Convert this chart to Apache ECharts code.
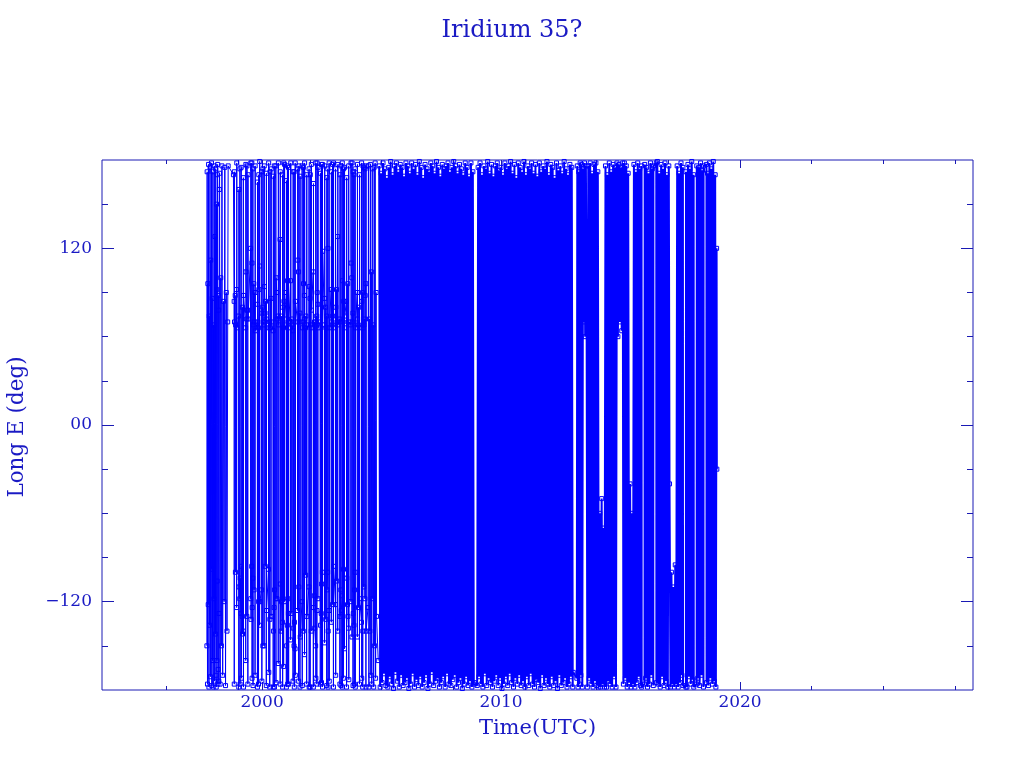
<!DOCTYPE html>
<html>
<head>
<meta charset="utf-8">
<script src="https://cdn.jsdelivr.net/npm/echarts@6/dist/echarts.min.js"></script>
<style>
html,body{margin:0;padding:0;background:#fff;}
#chart{width:1024px;height:768px;}
</style>
</head>
<body>
<div id="chart"></div>
<script>
// ---- Text ----
const titleText = 'Iridium 35?';
const xAxisTitle = 'Time(UTC)';
const yAxisTitle = 'Long E (deg)';

// ---- Axis ticks ----
const xLabelYears = [2000, 2010, 2020];
const xMinorTicks = [1996, 1999, 2002, 2005, 2008, 2011, 2014, 2017, 2023, 2026, 2029];
const yLabelValues = [-120, 0, 120];
const yMinorTicks = [-150, -90, -60, -30, 30, 60, 90, 150];
const xRange = [1993.3, 2029.75];
const yRange = [-180, 180];

// ---- Observations [decimal year, longitude E (deg)] ----
// 1997.7 - 2004.9 : early period, clusters near +65..+130 and -95..-155
const obsEarly = [
[1997.69,-150],[1997.70,172],[1997.715,-176],[1997.73,96],[1997.745,-122],[1997.76,177],[1997.775,-178],[1997.79,74],
[1997.805,-136],[1997.82,175],[1997.835,-171],[1997.85,112],[1997.865,-98],[1997.88,178],[1997.895,-177],[1997.91,86],
[1997.925,-160],[1997.94,172],[1997.955,-178],[1997.97,68],[1997.985,-118],[1998.00,176],[1998.015,-174],[1998.03,128],
[1998.045,-142],[1998.06,174],[1998.07,-170],[1998.08,-178],[1998.09,150],[1998.10,92],[1998.11,-160],[1998.12,-106],[1998.13,170],[1998.14,177],[1998.15,-176],[1998.16,-166],[1998.17,88],[1998.18,78],
[1998.19,-174],[1998.20,-128],[1998.21,160],[1998.22,171],[1998.245,-176],[1998.27,100],[1998.295,-150],[1998.32,176],[1998.35,-170],[1998.38,84],
[1998.41,-120],[1998.44,175],[1998.47,-177],[1998.50,90],[1998.53,-140],[1998.56,70],[1998.58,176],[1998.80,170],
[1998.830,84],[1998.835,-176],[1998.840,172],[1998.845,70],
[1998.875,88],[1998.883,-100],[1998.891,68],
[1998.930,92],[1998.935,-124],[1998.940,178],[1998.945,66],
[1999.020,74],[1999.025,-178],[1999.030,160],[1999.035,-110],
[1999.065,-118],[1999.071,174],[1999.077,-176],[1999.083,-104],
[1999.120,-128],[1999.125,175],[1999.130,-172],[1999.135,-96],
[1999.165,-130],[1999.173,80],[1999.181,-142],
[1999.210,-140],[1999.215,168],[1999.220,-178],[1999.225,88],
[1999.310,66],[1999.315,-160],[1999.320,177],[1999.325,104],
[1999.355,72],[1999.361,-130],[1999.367,176],[1999.373,78],
[1999.400,78],[1999.405,-176],[1999.410,170],[1999.415,72],
[1999.520,120],[1999.525,-118],[1999.530,178],[1999.535,-132],
[1999.565,-96],[1999.570,178],[1999.575,110],[1999.580,-172],[1999.585,-124],
[1999.610,-104],[1999.615,174],[1999.620,-177],[1999.625,68],
[1999.655,96],[1999.663,-112],[1999.671,70],
[1999.700,90],[1999.705,-170],[1999.710,176],[1999.715,64],
[1999.800,70],[1999.805,-178],[1999.810,165],[1999.815,82],
[1999.845,66],[1999.850,-176],[1999.855,-120],[1999.860,170],[1999.865,92],
[1999.890,108],[1999.895,-136],[1999.900,179],[1999.905,-120],
[1999.980,-112],[1999.985,172],[1999.990,-174],[1999.995,76],
[2000.025,80],[2000.031,-150],[2000.037,174],[2000.043,70],
[2000.080,68],[2000.085,-150],[2000.090,176],[2000.095,94],
[2000.125,76],[2000.133,-96],[2000.141,84],
[2000.170,72],[2000.175,-177],[2000.180,171],[2000.185,-126],
[2000.270,-98],[2000.275,178],[2000.280,-168],[2000.285,66],
[2000.315,70],[2000.320,-178],[2000.325,-132],[2000.330,172],[2000.335,66],
[2000.370,86],[2000.375,-130],[2000.380,174],[2000.385,70],
[2000.460,64],[2000.465,-178],[2000.470,169],[2000.475,-140],
[2000.505,-124],[2000.511,176],[2000.517,-178],[2000.523,-112],
[2000.570,-118],[2000.575,176],[2000.580,-175],[2000.585,100],
[2000.615,90],[2000.623,-118],[2000.631,72],
[2000.670,74],[2000.675,-162],[2000.680,178],[2000.685,68],
[2000.750,126],[2000.755,-176],[2000.760,172],[2000.765,-108],
[2000.795,-140],[2000.803,74],[2000.811,-120],
[2000.850,-134],[2000.855,170],[2000.860,-178],[2000.865,80],
[2000.895,66],[2000.901,-164],[2000.907,178],[2000.913,84],
[2000.930,68],[2000.935,-120],[2000.940,177],[2000.945,90],
[2001.010,72],[2001.015,-178],[2001.020,166],[2001.025,-150],
[2001.055,-136],[2001.060,176],[2001.065,98],[2001.070,-176],[2001.075,-118],
[2001.100,-128],[2001.105,175],[2001.110,-176],[2001.115,66],
[2001.190,98],[2001.195,-146],[2001.200,178],[2001.205,70],
[2001.235,72],[2001.243,-128],[2001.251,68],
[2001.290,64],[2001.295,-174],[2001.300,172],[2001.305,-138],
[2001.335,-150],[2001.341,172],[2001.347,-178],[2001.353,-134],
[2001.380,-152],[2001.385,178],[2001.390,-170],[2001.395,84],
[2001.480,70],[2001.485,-126],[2001.490,174],[2001.495,112],
[2001.525,104],[2001.530,-174],[2001.535,-110],[2001.540,176],[2001.545,70],
[2001.580,76],[2001.585,-178],[2001.590,169],[2001.595,-144],
[2001.670,-120],[2001.675,176],[2001.680,-177],[2001.685,66],
[2001.715,70],[2001.721,-140],[2001.727,175],[2001.733,96],
[2001.770,88],[2001.775,-156],[2001.780,178],[2001.785,72],
[2001.815,66],[2001.823,-102],[2001.831,74],
[2001.860,68],[2001.865,-176],[2001.870,170],[2001.875,-130],
[2001.960,-110],[2001.965,174],[2001.970,-178],[2001.975,94],
[2002.005,86],[2002.011,-178],[2002.017,170],[2002.023,68],
[2002.050,66],[2002.055,-140],[2002.060,177],[2002.065,78],
[2002.140,104],[2002.145,-178],[2002.150,164],[2002.155,-124],
[2002.185,-116],[2002.193,70],[2002.201,-138],
[2002.240,-150],[2002.245,178],[2002.250,-172],[2002.255,70],
[2002.285,74],[2002.290,-176],[2002.295,-126],[2002.300,178],[2002.305,90],
[2002.330,82],[2002.335,-118],[2002.340,175],[2002.345,66],
[2002.430,70],[2002.435,-176],[2002.440,171],[2002.445,-136],
[2002.475,-128],[2002.481,177],[2002.487,-175],[2002.493,-108],
[2002.520,-100],[2002.525,177],[2002.530,-178],[2002.535,118],
[2002.610,68],[2002.615,-148],[2002.620,176],[2002.625,86],
[2002.655,80],[2002.663,-132],[2002.671,66],
[2002.700,74],[2002.705,-177],[2002.710,168],[2002.715,-112],
[2002.745,-100],[2002.750,174],[2002.755,120],[2002.760,-178],[2002.765,-140],
[2002.800,-126],[2002.805,178],[2002.810,-174],[2002.815,66],
[2002.890,92],[2002.895,-134],[2002.900,172],[2002.905,70],
[2002.935,68],[2002.941,-122],[2002.947,177],[2002.953,74],
[2002.980,66],[2002.985,-178],[2002.990,178],[2002.995,-96],
[2003.070,-122],[2003.075,174],[2003.080,-170],[2003.085,80],
[2003.115,92],[2003.123,-106],[2003.131,70],
[2003.160,128],[2003.165,-140],[2003.170,177],[2003.175,68],
[2003.250,72],[2003.255,-176],[2003.260,170],[2003.265,-130],
[2003.295,-112],[2003.301,176],[2003.307,-177],[2003.313,-126],
[2003.350,-116],[2003.355,178],[2003.360,-178],[2003.365,98],
[2003.395,70],[2003.400,-172],[2003.405,-98],[2003.410,174],[2003.415,84],
[2003.440,66],[2003.445,-152],[2003.450,175],[2003.455,74],
[2003.530,84],[2003.535,-178],[2003.540,168],[2003.545,-104],
[2003.575,-122],[2003.583,96],[2003.591,-130],
[2003.620,-138],[2003.625,176],[2003.630,-173],[2003.635,70],
[2003.710,68],[2003.715,-120],[2003.720,178],[2003.725,110],
[2003.755,100],[2003.761,-144],[2003.767,178],[2003.773,70],
[2003.800,76],[2003.805,-177],[2003.810,172],[2003.815,-128],
[2003.845,-136],[2003.851,170],[2003.857,-176],[2003.863,-112],
[2003.890,-100],[2003.895,174],[2003.900,-178],[2003.905,66],
[2003.980,90],[2003.985,-144],[2003.990,177],[2003.995,72],
[2004.025,68],[2004.033,-124],[2004.041,80],
[2004.070,66],[2004.075,-176],[2004.080,170],[2004.085,-118],
[2004.160,-134],[2004.165,178],[2004.170,-172],[2004.175,84],
[2004.205,90],[2004.210,-178],[2004.215,-140],[2004.220,176],[2004.225,66],
[2004.250,70],[2004.255,-110],[2004.260,175],[2004.265,68],
[2004.295,72],[2004.301,-118],[2004.307,174],[2004.313,88],
[2004.340,96],[2004.345,-178],[2004.350,176],[2004.355,-140],
[2004.43,-124],[2004.45,176],[2004.47,-178],[2004.49,72],[2004.51,-140],[2004.53,177],[2004.55,-170],[2004.57,104],
[2004.59,-176],[2004.61,174],[2004.63,-118],[2004.65,68],[2004.67,-178],[2004.69,175],[2004.71,-150],[2004.73,178],
[2004.75,-172],[2004.77,90],[2004.79,-130],[2004.86,-160]
];

// 2004.9 - 2013.0 : dense period
const obsMid = [
[2004.90,176],[2004.94,-178],[2004.98,171],[2005.02,-175],[2005.06,178],[2005.10,-169],[2005.14,174],[2005.18,-177],
[2005.22,168],[2005.26,-178],[2005.30,175],[2005.34,-171],[2005.38,179],[2005.42,-176],[2005.46,170],[2005.50,-179],
[2005.54,176],[2005.58,-168],[2005.62,178],[2005.66,-174],[2005.70,172],[2005.74,-178],[2005.78,177],[2005.82,-170],
[2005.86,175],[2005.90,-177],[2005.94,169],[2005.98,-175],[2006.02,178],[2006.06,-172],[2006.10,176],[2006.14,-179],
[2006.18,171],[2006.22,-176],[2006.26,178],[2006.30,-169],[2006.34,174],[2006.38,-178],[2006.42,177],[2006.46,-173],
[2006.50,170],[2006.54,-177],[2006.58,179],[2006.62,-171],[2006.66,175],[2006.70,-178],[2006.74,168],[2006.78,-175],
[2006.82,177],[2006.86,-170],[2006.90,174],[2006.94,-179],[2006.98,172],[2007.02,-176],[2007.06,178],[2007.10,-168],
[2007.14,176],[2007.18,-177],[2007.22,171],[2007.26,-174],[2007.30,179],[2007.34,-172],[2007.38,175],[2007.42,-178],
[2007.46,169],[2007.50,-175],[2007.54,177],[2007.58,-171],[2007.62,174],[2007.66,-178],[2007.70,176],[2007.74,-169],
[2007.78,178],[2007.82,-176],[2007.86,172],[2007.90,-177],[2007.94,175],[2007.98,-173],[2008.02,179],[2008.06,-170],
[2008.10,176],[2008.14,-178],[2008.18,171],[2008.22,-175],[2008.26,177],[2008.30,-172],[2008.34,174],[2008.38,-179],
[2008.42,170],[2008.46,-176],[2008.50,178],[2008.54,-171],[2008.58,175],[2008.62,-177],[2008.66,169],[2008.70,-174],
[2008.74,178],[2008.78,-178],[2008.82,172],[2008.86,-176],[2008.90,-175],[2009.00,-177],
[2009.04,175],[2009.08,-171],[2009.12,178],[2009.16,-176],[2009.20,170],[2009.24,-178],[2009.28,176],[2009.32,-169],
[2009.36,174],[2009.40,-177],[2009.44,179],[2009.48,-172],[2009.52,171],[2009.56,-175],[2009.60,177],[2009.64,-178],
[2009.68,169],[2009.72,-174],[2009.76,176],[2009.80,-170],[2009.84,178],[2009.88,-177],[2009.92,173],[2009.96,-172],
[2010.00,175],[2010.04,-179],[2010.08,170],[2010.12,-176],[2010.16,178],[2010.20,-171],[2010.24,174],[2010.28,-177],
[2010.32,176],[2010.36,-169],[2010.40,179],[2010.44,-175],[2010.48,171],[2010.52,-178],[2010.56,177],[2010.60,-172],
[2010.64,168],[2010.68,-176],[2010.72,178],[2010.76,-170],[2010.80,175],[2010.84,-177],[2010.88,172],[2010.92,-174],
[2010.96,179],[2011.00,-178],[2011.04,170],[2011.08,-171],[2011.12,176],[2011.16,-177],[2011.20,174],[2011.24,-169],
[2011.28,178],[2011.32,-176],[2011.36,171],[2011.40,-178],[2011.44,177],[2011.48,-173],[2011.52,169],[2011.56,-175],
[2011.60,178],[2011.64,-179],[2011.68,172],[2011.72,-170],[2011.76,176],[2011.80,-177],[2011.84,174],[2011.88,-172],
[2011.92,179],[2011.96,-176],[2012.00,170],[2012.04,-178],[2012.08,177],[2012.12,-171],[2012.16,175],[2012.20,-177],
[2012.24,168],[2012.28,-174],[2012.32,178],[2012.36,-179],[2012.40,173],[2012.44,-170],[2012.48,176],[2012.52,-177],
[2012.56,171],[2012.60,-175],[2012.64,179],[2012.68,-172],[2012.72,174],[2012.76,-178],[2012.80,170],[2012.84,-176],
[2012.88,177],[2012.92,-171],[2012.96,175],[2013.00,-178]
];

// 2013.0 - 2019.0 : late period
const obsLate = [
[2013.02,-168],[2013.17,-172],
[2013.19,176],[2013.22,-178],[2013.25,172],[2013.28,-176],[2013.31,178],[2013.34,-170],[2013.37,177],[2013.40,-178],[2013.43,174],
[2013.46,70],[2013.49,178],[2013.52,60],[2013.55,176],[2013.58,80],
[2013.61,-178],[2013.65,176],[2013.69,-172],[2013.73,178],[2013.77,-176],[2013.81,171],[2013.85,-178],[2013.89,177],
[2013.93,-174],[2013.97,178],[2014.01,-177],[2014.05,172],[2014.09,-178],[2014.13,-60],
[2014.17,-178],[2014.21,-50],[2014.25,-176],[2014.29,-70],[2014.33,-178],
[2014.37,176],[2014.41,-178],[2014.45,170],[2014.49,-174],[2014.53,178],[2014.57,-176],[2014.61,172],[2014.65,-178],
[2014.69,177],[2014.73,-171],[2014.77,175],[2014.81,-178],[2014.85,178],[2014.89,60],
[2014.93,177],[2014.97,70],[2015.01,175],[2015.05,64],[2015.09,178],
[2015.12,-176],[2015.16,178],[2015.20,-172],[2015.24,176],[2015.28,-178],[2015.32,171],[2015.36,-175],[2015.40,-40],
[2015.44,-178],[2015.48,-60],[2015.52,-176],
[2015.56,177],[2015.60,-178],[2015.64,172],[2015.68,-175],[2015.72,178],[2015.76,-171],[2015.80,174],[2015.84,-177],
[2015.88,176],[2015.885,-178],[2016.005,-176],[2016.01,177],
[2016.05,-172],[2016.09,175],[2016.13,-178],[2016.17,171],[2016.21,-176],[2016.25,178],[2016.29,-170],[2016.33,174],
[2016.37,-177],[2016.375,176],[2016.495,178],[2016.50,-175],
[2016.54,179],[2016.58,-176],[2016.62,171],[2016.66,-178],[2016.70,177],[2016.74,-171],[2016.78,174],[2016.82,-177],
[2016.86,178],[2016.90,-174],[2016.94,170],[2016.98,-178],[2017.02,176],[2017.05,-40],
[2017.09,-178],[2017.13,-100],[2017.17,-176],[2017.21,-110],[2017.25,-178],[2017.29,-95],[2017.33,-176],
[2017.37,176],[2017.41,-178],[2017.45,171],[2017.49,-175],[2017.53,178],[2017.57,-170],
[2017.61,175],[2017.615,-177],[2017.735,-178],[2017.74,172],
[2017.78,-178],[2017.82,177],[2017.86,-171],[2017.90,174],[2017.94,-176],[2017.98,179],[2018.02,-173],
[2018.06,170],[2018.065,-178],[2018.185,-176],[2018.19,176],
[2018.23,-172],[2018.27,175],[2018.31,-177],[2018.35,178],[2018.39,-170],[2018.43,173],
[2018.47,-178],[2018.475,176],[2018.595,177],[2018.60,-175],
[2018.64,171],[2018.68,-177],[2018.72,178],[2018.76,-172],[2018.80,174],[2018.84,-176],[2018.88,179],[2018.92,-174],
[2018.96,170],[2018.99,-178],[2019.02,120],[2019.03,-30]
];

// ---- Styling ----
const DATA_COLOR = '#0000ff';
const AXIS_COLOR = '#1a1ab4';
const TEXT_COLOR = '#1a1ac4';
const FONT = '"DejaVu Serif", "Liberation Serif", serif';

function xAxisCfg(position, ticks, len, withLabels) {
  return {
    type: 'value', position: position, min: xRange[0], max: xRange[1], gridIndex: 0,
    axisLine: { show: false, onZero: false },
    splitLine: { show: false },
    axisTick: { show: true, inside: true, length: len, customValues: ticks,
                lineStyle: { color: AXIS_COLOR, width: 1 } },
    axisLabel: withLabels ? {
      show: true, customValues: ticks, margin: 4, color: TEXT_COLOR,
      fontFamily: FONT, fontSize: 17,
      formatter: function (v) { return String(Math.round(v)); }
    } : { show: false }
  };
}
function yAxisCfg(position, ticks, len, withLabels) {
  return {
    type: 'value', position: position, min: yRange[0], max: yRange[1], gridIndex: 0,
    axisLine: { show: false, onZero: false },
    splitLine: { show: false },
    axisTick: { show: true, inside: true, length: len, customValues: ticks,
                lineStyle: { color: AXIS_COLOR, width: 1 } },
    axisLabel: withLabels ? {
      show: true, customValues: ticks, margin: 10, color: TEXT_COLOR,
      fontFamily: FONT, fontSize: 17,
      formatter: function (v) {
        if (v === 0) return '00';
        return v < 0 ? '\u2212' + Math.abs(v) : String(v);
      }
    } : { show: false }
  };
}
function lineSeries(data, width) {
  return {
    type: 'line', data: data, xAxisIndex: 0, yAxisIndex: 0,
    silent: true, animation: false, clip: true,
    symbol: 'rect', symbolSize: 4, showSymbol: true, showAllSymbol: true,
    lineStyle: { color: DATA_COLOR, width: width },
    itemStyle: { color: 'rgba(0,0,0,0)', borderColor: DATA_COLOR, borderWidth: 1 },
    emphasis: { disabled: true }
  };
}

const chart = echarts.init(document.getElementById('chart'), null, { renderer: 'canvas' });
chart.setOption({
  backgroundColor: '#ffffff',
  animation: false,
  title: {
    text: titleText, left: 'center', top: 14,
    textStyle: { fontFamily: FONT, fontSize: 24, fontWeight: 'normal', color: TEXT_COLOR }
  },
  grid: {
    left: 102, right: 51, top: 160, bottom: 78,
    show: true, borderColor: AXIS_COLOR, borderWidth: 1, backgroundColor: 'transparent',
    containLabel: false, outerBoundsMode: 'none'
  },
  xAxis: [
    xAxisCfg('bottom', xLabelYears, 8, true),
    xAxisCfg('bottom', xMinorTicks, 4, false),
    xAxisCfg('top', xLabelYears, 8, false),
    xAxisCfg('top', xMinorTicks, 4, false)
  ],
  yAxis: [
    yAxisCfg('left', yLabelValues, 12, true),
    yAxisCfg('left', yMinorTicks, 6, false),
    yAxisCfg('right', yLabelValues, 12, false),
    yAxisCfg('right', yMinorTicks, 6, false)
  ],
  graphic: [
    { type: 'text', x: 17, y: 427, rotation: Math.PI / 2, silent: true,
      style: { text: yAxisTitle, fill: TEXT_COLOR, font: '21.5px ' + FONT,
               textAlign: 'center', textVerticalAlign: 'middle' } },
    { type: 'text', x: 537.5, y: 729, silent: true,
      style: { text: xAxisTitle, fill: TEXT_COLOR, font: '21px ' + FONT,
               textAlign: 'center', textVerticalAlign: 'middle' } }
  ],
  series: [
    lineSeries(obsEarly, 1),
    lineSeries(obsMid, 2),
    lineSeries(obsLate, 2)
  ]
});
</script>
</body>
</html>
